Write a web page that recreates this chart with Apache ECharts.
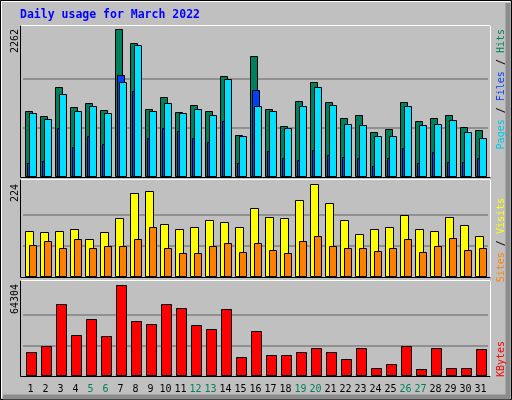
<!DOCTYPE html>
<html><head><meta charset="utf-8">
<script src="https://cdn.jsdelivr.net/npm/echarts@6/dist/echarts.min.js"></script>
<style>html,body{margin:0;padding:0;background:#C0C0C0}#c{width:512px;height:400px}</style>
</head><body><div id="c"></div>
<script>
var days = ['1','2','3','4','5','6','7','8','9','10','11','12','13','14','15','16','17','18','19','20','21','22','23','24','25','26','27','28','29','30','31'];
var weekend = ['5','6','12','13','19','20','26','27'];
var hits  = [1014,937,1381,1075,1136,1029,2262,2053,1044,1228,999,1106,1014,1549,647,1855,1044,785,1167,1457,1151,907,953,693,739,1151,861,907,953,769,723];
var files = [978,892,1274,1014,1090,983,1457,2023,1014,1136,983,1044,953,1503,632,1090,1014,754,1090,1381,1106,815,800,632,632,1090,800,815,876,693,601];
var pages = [219,250,754,464,632,510,1564,1320,601,754,708,601,540,861,219,1335,403,296,265,418,341,311,296,173,296,448,219,387,234,234,296];
var visits = [112,108,110,117,91,108,142,202,209,129,117,122,139,132,120,168,144,142,185,224,180,139,103,115,122,149,117,110,144,125,100];
var sites  = [78,88,69,91,69,74,74,91,120,69,59,59,74,81,61,83,66,59,86,98,74,69,71,64,69,91,61,76,95,66,69];
var kbytes = [17133,21358,50930,29103,40368,28399,64304,38960,36848,50930,48114,36144,33327,47409,13613,31919,15021,15021,17133,19950,17133,12204,19950,5868,8684,21358,5163,19950,5868,5868,19245];
var topLabels = ['2262','224','64304'];

var chart = echarts.init(document.getElementById('c'));
function barSeries(data, gi, off, w, color, z){
  return {type:'custom', xAxisIndex:gi, yAxisIndex:gi, z:z,
    data: data.map(function(v,i){return [i,v];}),
    renderItem:function(p,api){
      var i=api.value(0), v=api.value(1);
      var pt=api.coord([i,v]), b=api.coord([i,0]);
      return {type:'rect', shape:{x:Math.round(pt[0]+off)+0.5, y:Math.round(pt[1])+0.5, width:w, height:Math.round(b[1])-Math.round(pt[1])-1},
        style:{fill:color, stroke:'#000', lineWidth:1}};
    }};
}
function gridLines(gi, vals){
  return {type:'line', xAxisIndex:gi, yAxisIndex:gi, data:[], silent:true, z:1,
    markLine:{silent:true, symbol:'none', label:{show:false},
      lineStyle:{color:'#808080', type:'solid', width:1.5},
      data: vals.map(function(v){return {yAxis:v};})}};
}
var grids=[{left:23,right:24,top:25,height:152},{left:23,right:24,top:180,height:97},{left:23,right:24,top:281,height:95}];
var maxes=[2323,234.5,66890];
var xAxes=grids.map(function(g,i){return {type:'category', gridIndex:i, data:days, boundaryGap:true,
  axisLine:{show:false}, axisTick:{show:false},
  axisLabel:{show:i===2, margin:8, fontFamily:'DejaVu Sans Mono', fontSize:10, interval:0,
    color:function(v){return weekend.indexOf(v)>=0?'#00805C':'#000';}}};});
var yAxes=grids.map(function(g,i){return {type:'value', gridIndex:i, min:0, max:maxes[i],
  axisLine:{show:false}, axisTick:{show:false}, axisLabel:{show:false}, splitLine:{show:false}};});
function frame(x,y,w,h){
  return [{type:'rect', shape:{x:x+0.5,y:y+0.5,width:w,height:h}, style:{fill:'none',stroke:'#000',lineWidth:1}, z:100},
    {type:'polyline', shape:{points:[[x+0.5,y+0.5],[x+w+0.5,y+0.5],[x+w+0.5,y+h+0.5]]}, style:{fill:'none',stroke:'#fff',lineWidth:1}, z:100}];
}
function vtext(x,y,rich,text){
  return {type:'text', x:x, y:y, rotation:Math.PI/2, z:100,
    style:{text:text, rich:rich, align:'right', verticalAlign:'middle', font:'9px DejaVu Sans Mono'}};
}
var gfx=[
  {type:'rect', shape:{x:0.5,y:0.5,width:511,height:399}, style:{fill:'#C0C0C0',stroke:'#000',lineWidth:1}, z:-10},
  {type:'polyline', shape:{points:[[3,397],[508,397],[508,3]]}, style:{fill:'none',stroke:'#8C8C8C',lineWidth:5}, z:-9},
  {type:'polyline', shape:{points:[[1.5,398],[1.5,1.5],[510,1.5]]}, style:{fill:'none',stroke:'#fff',lineWidth:1}, z:-9},
  {type:'text', x:20, y:15, style:{text:'Daily usage for March 2022', font:'bold 11.5px DejaVu Sans Mono', fill:'#0000FF', verticalAlign:'middle'}, z:100}
].concat(frame(20,25,470,152), frame(20,179,470,98), frame(20,280,470,96));
var ly=[29,184,284];
topLabels.forEach(function(t,i){gfx.push({type:'text', x:15, y:ly[i], rotation:Math.PI/2, z:100,
  style:{text:t, font:'10px DejaVu Sans Mono', fill:'#000', align:'right', verticalAlign:'middle'}});});
gfx.push(vtext(501,29,{p:{fill:'#00C8E8',font:'10px DejaVu Sans Mono'},f:{fill:'#0040FF',font:'10px DejaVu Sans Mono'},h:{fill:'#00805C',font:'10px DejaVu Sans Mono'},s:{fill:'#000',font:'10px DejaVu Sans Mono'}},'{p|Pages}{s| / }{f|Files}{s| / }{h|Hits}'));
gfx.push(vtext(501,198,{a:{fill:'#FF8000',font:'10px DejaVu Sans Mono'},b:{fill:'#FFFF00',font:'10px DejaVu Sans Mono'},s:{fill:'#000',font:'10px DejaVu Sans Mono'}},'{a|Sites}{s| / }{b|Visits}'));
gfx.push(vtext(501,341,{k:{fill:'#FF0000',font:'10px DejaVu Sans Mono'}},'{k|KBytes}'));

chart.setOption({
  animation:false,
  grid:grids, xAxis:xAxes, yAxis:yAxes, graphic:gfx,
  series:[
    gridLines(0,[754,1508]), gridLines(1,[224/3,448/3]), gridLines(2,[64304/3,128608/3]),
    barSeries(hits,0,-5.5,7,'#00805C',5), barSeries(pages,0,-3.5,7,'#0040FF',6), barSeries(files,0,-1.5,7,'#00E0FF',7),
    barSeries(visits,1,-5.5,8,'#FFFF00',5), barSeries(sites,1,-1.5,7,'#FF8000',6),
    barSeries(kbytes,2,-4.5,10,'#FF0000',5)
  ]
});
</script></body></html>
